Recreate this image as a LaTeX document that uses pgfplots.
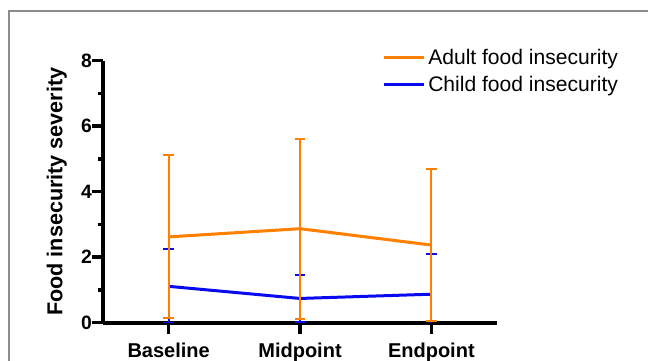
\documentclass[border=0pt]{standalone}
\usepackage{pgfplots}
\pgfplotsset{compat=1.18}
\usepackage{fontspec}
\setmainfont{Liberation Sans}
\definecolor{adultc}{RGB}{255,128,0}
\definecolor{childc}{RGB}{10,10,240}
\definecolor{framec}{RGB}{140,140,140}
\begin{document}
\begin{tikzpicture}
\useasboundingbox (0pt,0pt) rectangle (486pt,270pt);
\clip (0pt,0pt) rectangle (486pt,270pt);
\draw[framec, line width=1.1pt] (6.75pt,-5pt) -- (6.75pt,261.75pt) -- (495pt,261.75pt);
\begin{axis}[
  at={(77.25pt,27.98pt)}, anchor=south west,
  scale only axis, width=295.5pt, height=196.5pt,
  xmin=-0.5, xmax=2.5, ymin=0, ymax=8,
  axis x line=bottom, axis y line=left,
  axis line style={line width=2.8pt, -},
  tick style={line width=2.6pt, black},
  tick align=outside,
  major tick length=8.5pt, minor tick length=3.5pt,
  xtick={0,1,2}, xticklabels={Baseline,Midpoint,Endpoint},
  ytick={0,2,4,6,8}, minor ytick={1,3,5,7},
  /pgf/number format/assume math mode=true,
  xticklabel style={font=\bfseries\fontsize{15}{18}\selectfont, yshift=-3pt},
  yticklabel style={font=\bfseries\fontsize{14.5}{17}\selectfont, xshift=3.75pt},
  ylabel={Food insecurity severity},
  ylabel style={font=\bfseries\fontsize{16.2}{19}\selectfont, at={(axis description cs:-0.117,0.5)}, anchor=center, rotate=0},
  reverse legend,
  legend style={draw=none, fill=none, at={(0.709,1.055)}, anchor=north west,
    font=\fontsize{15.8}{18}\selectfont, row sep=3pt, inner sep=0pt},
  legend cell align=left,
  legend image code/.code={\draw[line width=2.25pt] (0pt,0pt) -- (21pt,0pt); \path (0pt,0pt) -- (30pt,0pt);},
]
\addplot[childc, line width=2.25pt, mark=none,
  error bars/.cd, y dir=both, y explicit,
  error bar style={line width=1.5pt, childc},
  error mark options={line width=1.5pt, mark size=4.1pt, rotate=90, childc}]
  coordinates {(0,1.11) +- (0,1.13) (1,0.74) +- (0,0.71) (2,0.87) +- (0,1.24)};
\addlegendentry{Child food insecurity}
\addplot[adultc, line width=2.25pt, mark=none,
  error bars/.cd, y dir=both, y explicit,
  error bar style={line width=1.5pt, adultc},
  error mark options={line width=1.5pt, mark size=4.1pt, rotate=90, adultc}]
  coordinates {(0,2.62) +- (0,2.49) (1,2.87) +- (0,2.75) (2,2.37) +- (0,2.33)};
\addlegendentry{Adult food insecurity}
\end{axis}
\end{tikzpicture}
\end{document}
